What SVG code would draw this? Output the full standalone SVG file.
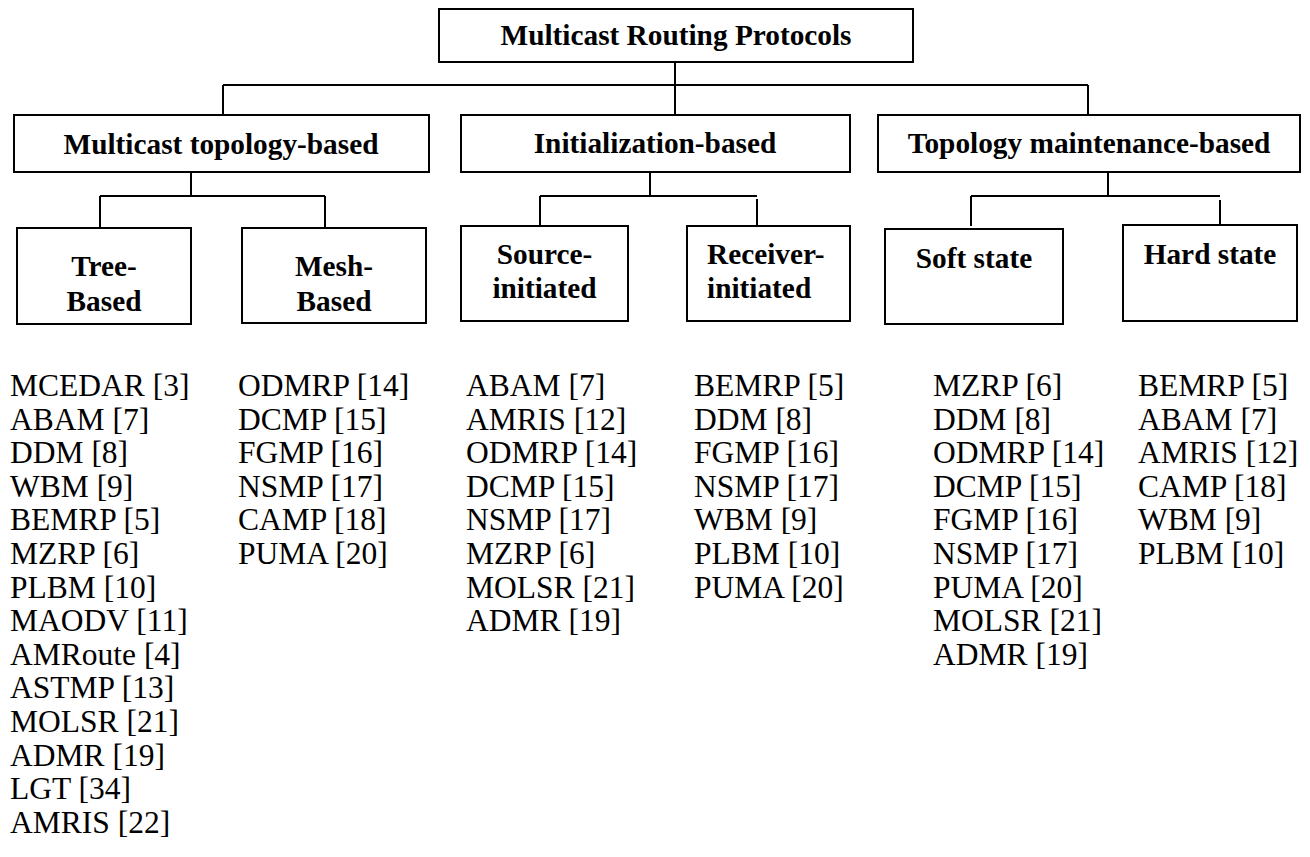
<svg xmlns="http://www.w3.org/2000/svg" width="1310" height="857" viewBox="0 0 1310 857">
<style>
.box{fill:#fff;stroke:#000;stroke-width:2}
.lbl{font-family:'Liberation Serif','Times New Roman',serif;font-weight:bold;font-size:29.3px;fill:#000}
.c{text-anchor:middle}
.lst{font-family:'Liberation Serif','Times New Roman',serif;font-size:31.5px;fill:#000}
.con{fill:none;stroke:#000;stroke-width:2}
</style>
<rect width="1310" height="857" fill="#fff"/>
<g id="connectors">
<path class="con" d="M675 62V115M223 85H1088M223 85V115M1088 85V115"/>
<path class="con" d="M191 172V196M100 196H325M100 196V228M325 196V228"/>
<path class="con" d="M650 172V196M540 196H757M540 196V226M757 199V226"/>
<path class="con" d="M1108 172V196M971 196H1220M971 196V226M1220 200V225"/>
</g>
<g id="root"><rect class="box" x="439" y="9" width="474" height="53"/><text class="lbl c" x="676" y="45">Multicast Routing Protocols</text></g>
<g id="topology"><rect class="box" x="14" y="115" width="415" height="57"/><text class="lbl c" x="221" y="154">Multicast topology-based</text></g>
<g id="initialization"><rect class="box" x="461" y="115" width="389" height="57"/><text class="lbl c" x="655" y="153">Initialization-based</text></g>
<g id="maintenance"><rect class="box" x="878" y="115" width="422" height="57"/><text class="lbl c" x="1089" y="153">Topology maintenance-based</text></g>
<g id="tree"><rect class="box" x="17" y="228" width="174" height="96"/><text class="lbl c" x="104" y="276">Tree-</text><text class="lbl c" x="104" y="311">Based</text></g>
<g id="mesh"><rect class="box" x="242" y="228" width="184" height="95"/><text class="lbl c" x="334" y="276">Mesh-</text><text class="lbl c" x="334" y="311">Based</text></g>
<g id="source"><rect class="box" x="461" y="226" width="167" height="95"/><text class="lbl c" x="544.5" y="264">Source-</text><text class="lbl c" x="544.5" y="298">initiated</text></g>
<g id="receiver"><rect class="box" x="687" y="226" width="163" height="95"/><text class="lbl" x="707" y="264">Receiver-</text><text class="lbl" x="707" y="298">initiated</text></g>
<g id="soft"><rect class="box" x="885" y="229" width="178" height="95"/><text class="lbl c" x="974" y="268">Soft state</text></g>
<g id="hard"><rect class="box" x="1123" y="225" width="174" height="96"/><text class="lbl c" x="1210" y="264">Hard state</text></g>
<g id="list-tree" class="lst">
<text x="10" y="396">MCEDAR [3]</text><text x="10" y="429.6">ABAM [7]</text><text x="10" y="463.2">DDM [8]</text><text x="10" y="496.8">WBM [9]</text><text x="10" y="530.4">BEMRP [5]</text><text x="10" y="564">MZRP [6]</text><text x="10" y="597.6">PLBM [10]</text><text x="10" y="631.2">MAODV [11]</text><text x="10" y="664.8">AMRoute [4]</text><text x="10" y="698.4">ASTMP [13]</text><text x="10" y="732">MOLSR [21]</text><text x="10" y="765.6">ADMR [19]</text><text x="10" y="799.2">LGT [34]</text><text x="10" y="832.8">AMRIS [22]</text>
</g>
<g id="list-mesh" class="lst">
<text x="238" y="396">ODMRP [14]</text><text x="238" y="429.6">DCMP [15]</text><text x="238" y="463.2">FGMP [16]</text><text x="238" y="496.8">NSMP [17]</text><text x="238" y="530.4">CAMP [18]</text><text x="238" y="564">PUMA [20]</text>
</g>
<g id="list-source" class="lst">
<text x="466" y="396">ABAM [7]</text><text x="466" y="429.6">AMRIS [12]</text><text x="466" y="463.2">ODMRP [14]</text><text x="466" y="496.8">DCMP [15]</text><text x="466" y="530.4">NSMP [17]</text><text x="466" y="564">MZRP [6]</text><text x="466" y="597.6">MOLSR [21]</text><text x="466" y="631.2">ADMR [19]</text>
</g>
<g id="list-receiver" class="lst">
<text x="694" y="396">BEMRP [5]</text><text x="694" y="429.6">DDM [8]</text><text x="694" y="463.2">FGMP [16]</text><text x="694" y="496.8">NSMP [17]</text><text x="694" y="530.4">WBM [9]</text><text x="694" y="564">PLBM [10]</text><text x="694" y="597.6">PUMA [20]</text>
</g>
<g id="list-soft" class="lst">
<text x="933" y="396">MZRP [6]</text><text x="933" y="429.6">DDM [8]</text><text x="933" y="463.2">ODMRP [14]</text><text x="933" y="496.8">DCMP [15]</text><text x="933" y="530.4">FGMP [16]</text><text x="933" y="564">NSMP [17]</text><text x="933" y="597.6">PUMA [20]</text><text x="933" y="631.2">MOLSR [21]</text><text x="933" y="664.8">ADMR [19]</text>
</g>
<g id="list-hard" class="lst">
<text x="1138" y="396">BEMRP [5]</text><text x="1138" y="429.6">ABAM [7]</text><text x="1138" y="463.2">AMRIS [12]</text><text x="1138" y="496.8">CAMP [18]</text><text x="1138" y="530.4">WBM [9]</text><text x="1138" y="564">PLBM [10]</text>
</g>
</svg>
